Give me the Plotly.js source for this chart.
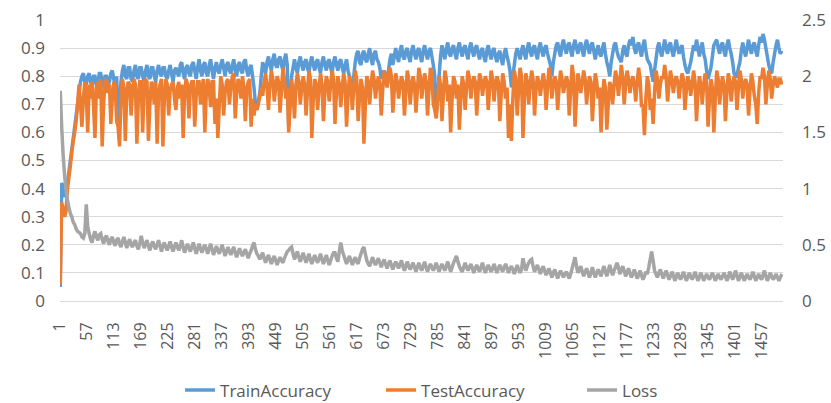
<!DOCTYPE html>
<html>
<head>
<meta charset="utf-8">
<script src="https://cdn.plot.ly/plotly-3.0.1.min.js"></script>
<style>html,body{margin:0;padding:0;background:#fff;}#chart{width:831px;height:403px;}</style>
</head>
<body>
<div id="chart"></div>
<script>
// sampled every 3 iterations, starting at iteration 1
var sampleStep = 3;
var trainAccuracy = [
0.05,0.42,0.41,0.37,0.38,0.42,0.46,0.50,0.54,0.58,0.62,0.66,0.70,0.74,0.78,0.80,0.81,0.78,0.77,0.80,
0.81,0.78,0.76,0.80,0.80,0.77,0.77,0.81,0.81,0.78,0.76,0.80,0.80,0.77,0.78,0.81,0.82,0.79,0.77,0.80,
0.63,0.70,0.78,0.82,0.84,0.80,0.79,0.83,0.83,0.79,0.78,0.82,0.84,0.80,0.79,0.83,0.83,0.80,0.78,0.82,
0.84,0.80,0.79,0.83,0.83,0.80,0.78,0.82,0.84,0.81,0.80,0.83,0.83,0.80,0.79,0.82,0.84,0.81,0.78,0.82,
0.83,0.81,0.80,0.84,0.85,0.81,0.79,0.83,0.84,0.81,0.80,0.84,0.85,0.82,0.79,0.83,0.86,0.82,0.80,0.84,
0.85,0.81,0.80,0.84,0.86,0.82,0.79,0.83,0.85,0.82,0.81,0.84,0.86,0.83,0.80,0.84,0.85,0.82,0.81,0.84,
0.86,0.82,0.80,0.84,0.85,0.82,0.81,0.85,0.86,0.82,0.80,0.83,0.84,0.80,0.76,0.70,0.68,0.71,0.74,0.80,
0.85,0.83,0.81,0.85,0.87,0.84,0.82,0.86,0.88,0.84,0.83,0.86,0.87,0.84,0.82,0.86,0.88,0.84,0.62,0.72,
0.80,0.83,0.86,0.83,0.81,0.85,0.87,0.84,0.82,0.85,0.86,0.83,0.81,0.85,0.87,0.84,0.82,0.85,0.86,0.83,
0.81,0.85,0.87,0.84,0.82,0.85,0.86,0.83,0.81,0.85,0.87,0.84,0.82,0.85,0.86,0.83,0.81,0.84,0.86,0.82,
0.80,0.77,0.74,0.80,0.85,0.88,0.89,0.85,0.84,0.88,0.89,0.86,0.85,0.88,0.90,0.86,0.84,0.88,0.89,0.86,
0.85,0.83,0.79,0.81,0.82,0.80,0.78,0.82,0.86,0.88,0.84,0.87,0.90,0.87,0.85,0.89,0.91,0.87,0.86,0.89,
0.90,0.87,0.85,0.89,0.91,0.88,0.86,0.89,0.90,0.87,0.85,0.89,0.91,0.88,0.86,0.89,0.90,0.87,0.84,0.80,
0.66,0.72,0.80,0.87,0.91,0.88,0.86,0.90,0.92,0.88,0.87,0.90,0.91,0.88,0.86,0.90,0.92,0.89,0.87,0.90,
0.91,0.88,0.86,0.90,0.92,0.89,0.87,0.90,0.91,0.88,0.86,0.89,0.90,0.87,0.85,0.89,0.91,0.88,0.86,0.89,
0.90,0.87,0.85,0.88,0.89,0.86,0.84,0.88,0.90,0.87,0.85,0.82,0.76,0.80,0.84,0.88,0.90,0.88,0.86,0.89,
0.91,0.88,0.86,0.90,0.92,0.89,0.87,0.90,0.91,0.88,0.86,0.90,0.92,0.89,0.87,0.90,0.91,0.88,0.86,0.84,
0.80,0.85,0.88,0.91,0.92,0.89,0.87,0.91,0.93,0.90,0.88,0.91,0.92,0.89,0.87,0.91,0.93,0.90,0.88,0.91,
0.92,0.89,0.87,0.91,0.93,0.90,0.88,0.91,0.92,0.89,0.86,0.89,0.91,0.88,0.87,0.90,0.92,0.88,0.85,0.83,
0.80,0.85,0.88,0.91,0.92,0.89,0.87,0.86,0.85,0.89,0.91,0.88,0.87,0.91,0.93,0.91,0.94,0.90,0.88,0.91,
0.92,0.89,0.87,0.91,0.93,0.89,0.86,0.85,0.84,0.81,0.78,0.82,0.86,0.90,0.92,0.89,0.87,0.90,0.93,0.90,
0.88,0.91,0.92,0.89,0.87,0.90,0.93,0.90,0.88,0.90,0.91,0.87,0.84,0.82,0.81,0.83,0.85,0.88,0.91,0.89,
0.93,0.90,0.87,0.90,0.92,0.88,0.86,0.82,0.79,0.81,0.83,0.87,0.91,0.92,0.93,0.90,0.88,0.91,0.92,0.89,
0.87,0.91,0.93,0.90,0.88,0.85,0.81,0.80,0.80,0.83,0.85,0.89,0.92,0.89,0.87,0.90,0.93,0.90,0.88,0.91,
0.92,0.89,0.87,0.91,0.94,0.92,0.95,0.93,0.90,0.87,0.84,0.82,0.81,0.85,0.88,0.91,0.93,0.90,0.88,0.89
];
var testAccuracy = [
0.06,0.35,0.33,0.30,0.32,0.40,0.44,0.48,0.53,0.57,0.60,0.64,0.70,0.77,0.70,0.62,0.72,0.78,0.74,0.60,
0.77,0.72,0.78,0.70,0.58,0.76,0.78,0.72,0.79,0.55,0.70,0.78,0.79,0.74,0.77,0.63,0.72,0.78,0.77,0.64,
0.62,0.55,0.72,0.79,0.76,0.57,0.74,0.78,0.77,0.66,0.75,0.79,0.77,0.56,0.72,0.78,0.78,0.60,0.76,0.79,
0.78,0.57,0.70,0.78,0.77,0.70,0.78,0.56,0.74,0.77,0.79,0.55,0.72,0.79,0.77,0.66,0.75,0.77,0.78,0.72,
0.68,0.76,0.78,0.72,0.77,0.58,0.74,0.79,0.77,0.65,0.76,0.78,0.78,0.62,0.73,0.78,0.78,0.70,0.76,0.79,
0.60,0.74,0.79,0.76,0.69,0.78,0.78,0.63,0.72,0.58,0.70,0.80,0.77,0.66,0.74,0.78,0.79,0.70,0.76,0.80,
0.81,0.65,0.74,0.79,0.77,0.72,0.80,0.76,0.64,0.75,0.78,0.79,0.62,0.72,0.66,0.70,0.68,0.70,0.73,0.76,
0.73,0.78,0.81,0.76,0.68,0.77,0.82,0.79,0.71,0.76,0.80,0.78,0.67,0.75,0.83,0.79,0.72,0.76,0.60,0.70,
0.79,0.74,0.65,0.77,0.81,0.78,0.70,0.76,0.80,0.77,0.66,0.75,0.82,0.79,0.58,0.72,0.79,0.77,0.68,0.76,
0.81,0.77,0.64,0.74,0.80,0.78,0.71,0.77,0.82,0.79,0.63,0.74,0.80,0.77,0.69,0.76,0.81,0.78,0.62,0.73,
0.80,0.77,0.68,0.76,0.82,0.79,0.64,0.73,0.79,0.76,0.56,0.70,0.80,0.78,0.70,0.77,0.82,0.79,0.72,0.77,
0.80,0.77,0.66,0.75,0.82,0.80,0.76,0.79,0.83,0.80,0.67,0.75,0.81,0.78,0.72,0.77,0.80,0.78,0.66,0.74,
0.82,0.79,0.70,0.76,0.80,0.77,0.67,0.75,0.83,0.80,0.72,0.77,0.81,0.78,0.66,0.75,0.83,0.80,0.70,0.68,
0.65,0.72,0.80,0.77,0.64,0.74,0.82,0.79,0.71,0.77,0.60,0.72,0.80,0.78,0.72,0.77,0.61,0.72,0.80,0.77,
0.68,0.76,0.82,0.79,0.72,0.77,0.80,0.78,0.66,0.75,0.81,0.79,0.73,0.77,0.80,0.78,0.68,0.76,0.82,0.79,
0.71,0.77,0.80,0.78,0.64,0.74,0.81,0.78,0.72,0.76,0.58,0.70,0.57,0.72,0.82,0.79,0.66,0.75,0.83,0.80,
0.58,0.72,0.81,0.78,0.70,0.77,0.82,0.79,0.66,0.75,0.80,0.78,0.73,0.77,0.81,0.78,0.68,0.76,0.83,0.80,
0.72,0.77,0.80,0.78,0.68,0.76,0.82,0.79,0.74,0.77,0.80,0.78,0.66,0.75,0.84,0.80,0.62,0.72,0.81,0.78,
0.74,0.78,0.82,0.79,0.70,0.76,0.80,0.78,0.64,0.74,0.81,0.78,0.72,0.76,0.60,0.72,0.79,0.76,0.61,0.70,
0.78,0.76,0.70,0.77,0.82,0.79,0.73,0.78,0.84,0.80,0.70,0.77,0.82,0.79,0.74,0.78,0.80,0.77,0.71,0.78,
0.83,0.79,0.69,0.70,0.59,0.72,0.80,0.77,0.68,0.72,0.63,0.74,0.82,0.79,0.72,0.77,0.80,0.79,0.84,0.80,
0.71,0.77,0.82,0.79,0.74,0.78,0.80,0.78,0.72,0.77,0.81,0.79,0.68,0.75,0.80,0.78,0.73,0.77,0.82,0.78,
0.64,0.74,0.80,0.77,0.70,0.77,0.81,0.78,0.62,0.72,0.79,0.76,0.60,0.72,0.82,0.79,0.70,0.76,0.80,0.77,
0.64,0.74,0.81,0.78,0.71,0.77,0.80,0.78,0.68,0.76,0.82,0.79,0.72,0.77,0.79,0.77,0.66,0.75,0.81,0.78,
0.73,0.70,0.63,0.74,0.80,0.79,0.83,0.80,0.70,0.77,0.82,0.79,0.72,0.77,0.80,0.78,0.76,0.79,0.79,0.77
];
var loss = [
1.87,1.55,1.30,1.12,0.99,0.90,0.83,0.78,0.75,0.70,0.68,0.64,0.62,0.61,0.60,0.57,0.56,0.60,0.86,0.66,
0.60,0.55,0.52,0.58,0.62,0.57,0.54,0.59,0.60,0.55,0.51,0.56,0.58,0.53,0.50,0.55,0.57,0.52,0.49,0.54,
0.56,0.51,0.48,0.53,0.57,0.52,0.47,0.52,0.55,0.50,0.48,0.52,0.54,0.49,0.46,0.51,0.58,0.52,0.47,0.51,
0.54,0.49,0.45,0.50,0.53,0.49,0.46,0.50,0.54,0.49,0.44,0.49,0.52,0.48,0.45,0.49,0.53,0.48,0.44,0.48,
0.52,0.48,0.45,0.49,0.54,0.48,0.43,0.47,0.51,0.47,0.44,0.48,0.52,0.47,0.42,0.46,0.51,0.47,0.43,0.47,
0.50,0.46,0.42,0.47,0.51,0.46,0.41,0.45,0.49,0.45,0.42,0.46,0.50,0.45,0.40,0.44,0.48,0.44,0.41,0.45,
0.48,0.43,0.39,0.43,0.47,0.43,0.40,0.43,0.46,0.42,0.38,0.42,0.45,0.49,0.52,0.46,0.42,0.40,0.37,0.40,
0.43,0.38,0.34,0.38,0.41,0.37,0.33,0.37,0.40,0.36,0.32,0.36,0.39,0.36,0.34,0.38,0.41,0.44,0.45,0.47,
0.48,0.42,0.37,0.41,0.44,0.39,0.35,0.39,0.43,0.38,0.34,0.38,0.42,0.37,0.33,0.37,0.41,0.37,0.34,0.38,
0.42,0.37,0.33,0.37,0.41,0.36,0.32,0.36,0.40,0.43,0.43,0.38,0.35,0.44,0.52,0.45,0.41,0.37,0.33,0.37,
0.40,0.36,0.32,0.36,0.39,0.35,0.33,0.38,0.42,0.46,0.48,0.42,0.36,0.33,0.31,0.35,0.39,0.35,0.32,0.35,
0.38,0.34,0.30,0.34,0.37,0.33,0.29,0.33,0.36,0.32,0.28,0.32,0.35,0.32,0.29,0.33,0.36,0.31,0.27,0.31,
0.35,0.31,0.28,0.31,0.34,0.30,0.26,0.30,0.34,0.30,0.27,0.31,0.35,0.30,0.26,0.30,0.33,0.30,0.27,0.30,
0.34,0.30,0.26,0.30,0.33,0.30,0.27,0.31,0.35,0.30,0.26,0.30,0.34,0.37,0.40,0.35,0.31,0.28,0.26,0.30,
0.34,0.30,0.27,0.30,0.33,0.29,0.25,0.29,0.32,0.29,0.26,0.30,0.34,0.29,0.25,0.29,0.32,0.29,0.26,0.29,
0.33,0.29,0.25,0.29,0.32,0.29,0.26,0.30,0.33,0.29,0.25,0.29,0.31,0.28,0.24,0.28,0.32,0.28,0.25,0.28,
0.38,0.32,0.27,0.31,0.34,0.36,0.37,0.31,0.26,0.29,0.32,0.28,0.24,0.28,0.31,0.27,0.23,0.26,0.29,0.25,
0.21,0.25,0.28,0.24,0.20,0.24,0.27,0.24,0.21,0.24,0.26,0.23,0.20,0.24,0.29,0.34,0.39,0.31,0.25,0.28,
0.31,0.26,0.22,0.26,0.29,0.25,0.21,0.25,0.30,0.25,0.21,0.25,0.28,0.25,0.22,0.27,0.31,0.26,0.22,0.27,
0.32,0.27,0.23,0.27,0.30,0.34,0.30,0.24,0.27,0.31,0.27,0.22,0.25,0.29,0.25,0.21,0.24,0.28,0.24,0.20,
0.23,0.27,0.23,0.19,0.22,0.26,0.24,0.30,0.37,0.44,0.36,0.27,0.24,0.21,0.25,0.28,0.24,0.20,0.24,0.27,
0.23,0.19,0.22,0.26,0.23,0.18,0.21,0.25,0.22,0.19,0.22,0.26,0.22,0.18,0.21,0.25,0.22,0.19,0.22,0.26,
0.22,0.18,0.21,0.25,0.22,0.18,0.21,0.24,0.21,0.19,0.22,0.25,0.22,0.18,0.21,0.24,0.21,0.19,0.22,0.25,
0.22,0.18,0.21,0.26,0.23,0.19,0.22,0.27,0.23,0.18,0.21,0.25,0.22,0.18,0.21,0.24,0.21,0.19,0.22,0.26,
0.22,0.18,0.21,0.24,0.21,0.19,0.23,0.27,0.22,0.18,0.21,0.25,0.22,0.19,0.21,0.24,0.21,0.18,0.21,0.24
];
var xTickLabels = [1,57,113,169,225,281,337,393,449,505,561,617,673,729,785,841,897,953,1009,1065,1121,1177,1233,1289,1345,1401,1457];
var leftTicks = [0,0.1,0.2,0.3,0.4,0.5,0.6,0.7,0.8,0.9,1];
var rightTicks = [0,0.5,1,1.5,2,2.5];
var seriesNames = ['TrainAccuracy','TestAccuracy','Loss'];

var iterations = trainAccuracy.map(function(_, k){ return 1 + sampleStep * k; });

var FONT = "'Open Sans', 'Liberation Sans', sans-serif";
var TXT = '#595959';
var LW = 3.5;
var traces = [
  {x: iterations, y: trainAccuracy, name: seriesNames[0], type: 'scatter', mode: 'lines',
   line: {color: '#5B9BD5', width: LW, simplify: false}, yaxis: 'y'},
  {x: iterations, y: testAccuracy, name: seriesNames[1], type: 'scatter', mode: 'lines',
   line: {color: '#ED7D31', width: LW, simplify: false}, yaxis: 'y'},
  {x: iterations, y: loss, name: seriesNames[2], type: 'scatter', mode: 'lines',
   line: {color: '#A5A5A5', width: LW, simplify: false}, yaxis: 'y2'}
];
var layout = {
  width: 831, height: 403,
  margin: {l: 60, r: 48, t: 20, b: 102, autoexpand: false},
  paper_bgcolor: '#ffffff', plot_bgcolor: '#ffffff',
  font: {family: FONT, size: 15, color: TXT},
  showlegend: true,
  legend: {orientation: 'h', x: 0.166, xanchor: 'left', y: -0.318, yanchor: 'middle',
           entrywidth: 156, entrywidthmode: 'pixels',
           font: {family: FONT, size: 17, color: TXT}, itemwidth: 30, tracegroupgap: 0},
  xaxis: {range: [0.5, 1500.5], tickmode: 'array', tickvals: xTickLabels,
          ticktext: xTickLabels.map(String), tickangle: -90, showgrid: false,
          zeroline: false, showline: true, linecolor: '#d9d9d9', linewidth: 1,
          ticks: '', ticklabelstandoff: 14, automargin: false,
          tickfont: {family: FONT, size: 16, color: TXT}},
  yaxis: {range: [0, 1], tickmode: 'array', tickvals: leftTicks, ticktext: leftTicks.map(String),
          showgrid: true, gridcolor: '#d9d9d9', gridwidth: 1, zeroline: false, showline: false,
          ticks: '', ticklabelstandoff: 14, automargin: false,
          tickfont: {family: FONT, size: 17, color: TXT}},
  yaxis2: {range: [0, 2.5], tickmode: 'array', tickvals: rightTicks, ticktext: rightTicks.map(String),
           overlaying: 'y', side: 'right', anchor: 'x', showgrid: false, zeroline: false,
           showline: false, ticks: '', ticklabelstandoff: 18, automargin: false,
           tickfont: {family: FONT, size: 17, color: TXT}}
};
Plotly.newPlot('chart', traces, layout, {displayModeBar: false, staticPlot: true});
</script>
</body>
</html>
